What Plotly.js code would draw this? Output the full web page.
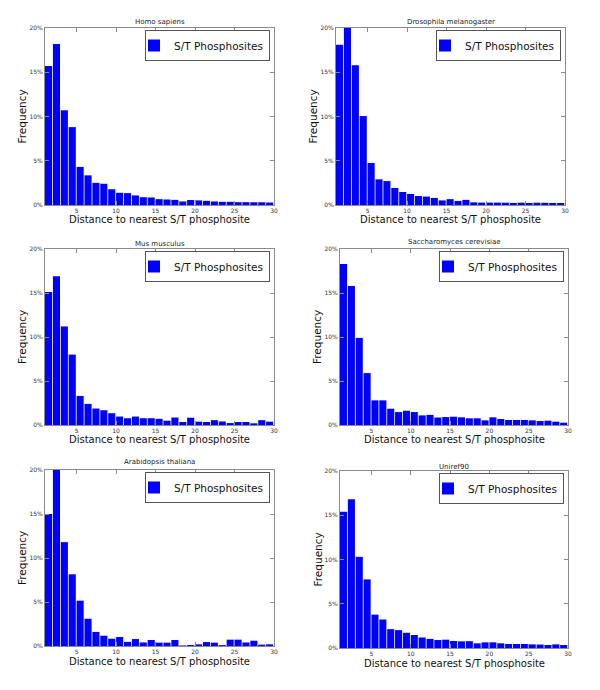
<!DOCTYPE html>
<html>
<head>
<meta charset="utf-8">
<script src="https://cdn.plot.ly/plotly-3.0.1.min.js"></script>
<style>
  html, body { margin: 0; padding: 0; background: #ffffff; }
  #chart { width: 600px; height: 690px; }
</style>
</head>
<body>
<div id="chart"></div>
<script>
// ---- data (frequency in %) ----
const distances = [1,2,3,4,5,6,7,8,9,10,11,12,13,14,15,16,17,18,19,20,21,22,23,24,25,26,27,28,29];

const homoSapiens = [15.7, 18.2, 10.7, 8.8, 4.3, 3.35, 2.5, 2.4, 1.78, 1.38, 1.34, 1.08, 0.88, 0.85, 0.66, 0.62, 0.58, 0.4, 0.56, 0.52, 0.47, 0.4, 0.36, 0.36, 0.32, 0.32, 0.31, 0.31, 0.28];
const drosophila = [18.1, 20.0, 15.8, 10.05, 4.75, 2.9, 2.7, 1.93, 1.47, 1.25, 1.02, 0.95, 0.8, 0.52, 0.66, 0.46, 0.58, 0.3, 0.27, 0.27, 0.27, 0.26, 0.23, 0.26, 0.23, 0.26, 0.25, 0.23, 0.23];
const musMusculus = [15.1, 16.9, 11.2, 8.0, 3.3, 2.4, 1.87, 1.68, 1.34, 0.96, 0.77, 0.96, 0.77, 0.77, 0.7, 0.49, 0.85, 0.34, 0.83, 0.38, 0.34, 0.55, 0.4, 0.22, 0.34, 0.34, 0.19, 0.55, 0.38];
const saccharomyces = [18.3, 15.8, 9.9, 5.9, 2.8, 2.8, 1.85, 1.47, 1.62, 1.47, 1.09, 1.15, 0.85, 0.9, 0.94, 0.87, 0.76, 0.76, 0.53, 0.87, 0.68, 0.57, 0.57, 0.57, 0.53, 0.45, 0.49, 0.38, 0.26];
const arabidopsis = [15.0, 20.0, 11.8, 8.15, 5.15, 3.1, 1.6, 1.17, 0.83, 1.02, 0.47, 0.79, 0.4, 0.68, 0.38, 0.38, 0.68, 0.06, 0.11, 0.19, 0.45, 0.38, 0.1, 0.72, 0.72, 0.4, 0.6, 0.15, 0.19];
const uniref90 = [15.4, 16.8, 10.3, 7.75, 3.77, 3.22, 2.13, 2.02, 1.72, 1.47, 1.19, 1.03, 0.9, 0.94, 0.79, 0.75, 0.77, 0.53, 0.64, 0.64, 0.53, 0.45, 0.45, 0.45, 0.41, 0.39, 0.34, 0.41, 0.34];

const panelTitles = ['Homo sapiens', 'Drosophila melanogaster', 'Mus musculus', 'Saccharomyces cerevisiae', 'Arabidopsis thaliana', 'Uniref90'];
const seriesName = 'S/T Phosphosites';
const xTitle = 'Distance to nearest S/T phosphosite';
const yTitle = 'Frequency';
const yTickVals = [0, 5, 10, 15, 20];
const yTickText = ['0%', '5%', '10%', '15%', '20%'];
const xTickVals = [5, 10, 15, 20, 25, 30];
const xTickText = ['5', '10', '15', '20', '25', '30'];

const allSeries = [homoSapiens, drosophila, musMusculus, saccharomyces, arabidopsis, uniref90];

// ---- layout geometry (pixels in the 600x690 page) ----
const W = 600, H = 690;
const boxes = [
  {x0: 45,  x1: 274, y0: 28,  y1: 205, titleY: 22,  ytx: 22,  xty: 220},
  {x0: 336, x1: 565, y0: 28,  y1: 205, titleY: 22,  ytx: 313, xty: 220},
  {x0: 45,  x1: 274, y0: 249, y1: 425, titleY: 244, ytx: 22,  xty: 440},
  {x0: 340, x1: 568, y0: 249, y1: 425, titleY: 242, ytx: 317, xty: 440},
  {x0: 45,  x1: 274, y0: 470, y1: 646, titleY: 462, ytx: 22,  xty: 661},
  {x0: 340, x1: 568, y0: 471, y1: 648, titleY: 467, ytx: 317, xty: 663}
];

const FONT = 'DejaVu Sans, Liberation Sans, sans-serif';
const frameColor = '#8a8a8a';

const traces = [];
const layout = {
  width: W, height: H,
  margin: {l: 0, r: 0, t: 0, b: 0},
  paper_bgcolor: '#ffffff',
  plot_bgcolor: '#ffffff',
  font: {family: FONT, color: '#222'},
  showlegend: true,
  annotations: []
};

boxes.forEach((b, i) => {
  const n = i + 1;
  const xa = n === 1 ? 'x' : 'x' + n;
  const ya = n === 1 ? 'y' : 'y' + n;
  const lg = n === 1 ? 'legend' : 'legend' + n;
  traces.push({
    type: 'bar',
    x: distances,
    y: allSeries[i],
    xaxis: xa, yaxis: ya,
    name: seriesName,
    legend: lg,
    offset: 0,
    width: 0.9,
    marker: {color: '#0000ff', line: {width: 0}},
    hoverinfo: 'x+y'
  });
  const axCommon = {
    showline: true, linecolor: frameColor, linewidth: 1, mirror: 'allticks',
    ticks: 'inside', ticklen: 4, tickcolor: frameColor, tickwidth: 1,
    showgrid: false, zeroline: false, fixedrange: true,
    tickfont: {family: FONT, size: 6, color: '#333'}
  };
  layout[n === 1 ? 'xaxis' : 'xaxis' + n] = Object.assign({}, axCommon, {
    domain: [b.x0 / W, b.x1 / W],
    anchor: ya,
    range: [1, 30],
    tickmode: 'array', tickvals: xTickVals, ticktext: xTickText,
    ticklabelstandoff: 0
  });
  layout[n === 1 ? 'yaxis' : 'yaxis' + n] = Object.assign({}, axCommon, {
    domain: [1 - b.y1 / H, 1 - b.y0 / H],
    anchor: xa,
    range: [0, 20],
    tickmode: 'array', tickvals: yTickVals, ticktext: yTickText
  });
  layout[lg] = {
    x: (b.x1 - 4) / W, y: 1 - (b.y0 + 2) / H,
    xanchor: 'right', yanchor: 'top',
    xref: 'paper', yref: 'paper',
    bgcolor: 'rgba(255,255,255,0.9)', bordercolor: '#555', borderwidth: 1,
    font: {family: FONT, size: 10.5, color: '#111'},
    itemwidth: 30,
    indentation: -12
  };
  // subplot title
  layout.annotations.push({
    text: panelTitles[i], xref: 'paper', yref: 'paper',
    x: ((b.x0 + b.x1) / 2) / W, y: 1 - b.titleY / H,
    xanchor: 'center', yanchor: 'middle', showarrow: false,
    font: {family: FONT, size: 7, color: '#222'}
  });
  // x axis title
  layout.annotations.push({
    text: xTitle, xref: 'paper', yref: 'paper',
    x: ((b.x0 + b.x1) / 2) / W, y: 1 - b.xty / H,
    xanchor: 'center', yanchor: 'middle', showarrow: false,
    font: {family: FONT, size: 10, color: '#111'}
  });
  // y axis title
  layout.annotations.push({
    text: yTitle, xref: 'paper', yref: 'paper',
    x: b.ytx / W, y: 1 - ((b.y0 + b.y1) / 2) / H,
    xanchor: 'center', yanchor: 'middle', showarrow: false, textangle: -90,
    font: {family: FONT, size: 10.5, color: '#111'}
  });
});

Plotly.newPlot('chart', traces, layout, {displayModeBar: false, staticPlot: true});
</script>
</body>
</html>
